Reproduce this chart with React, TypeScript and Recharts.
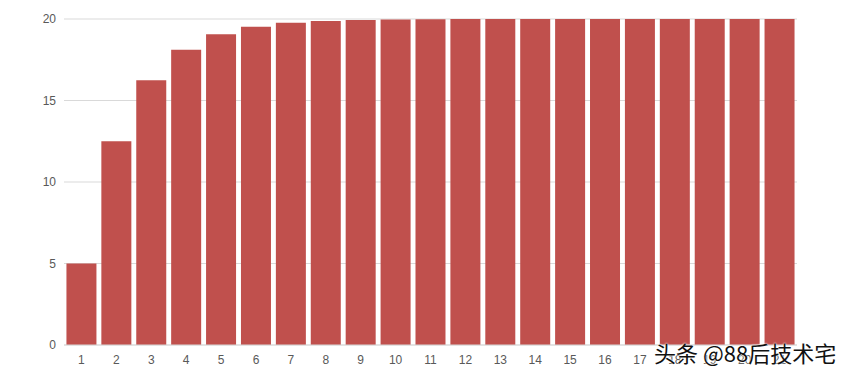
import React from 'react';
import { BarChart, Bar, XAxis, YAxis, CartesianGrid } from 'recharts';

const categories = ['1', '2', '3', '4', '5', '6', '7', '8', '9', '10', '11', '12', '13', '14', '15', '16', '17', '18', '19', '20', '21'];
const values = [5, 12.5, 16.25, 18.12, 19.06, 19.53, 19.77, 19.88, 19.94, 19.97, 19.99, 20, 20, 20, 20, 20, 20, 20, 20, 20, 20];
const yTicks = [0, 5, 10, 15, 20];

const data = categories.map((name, i) => ({ name, value: values[i] }));

const App: React.FC = () => {
  return (
    <div style={{ position: 'absolute', left: 0, top: 0, width: 850, height: 379, background: '#fff' }}>
      <BarChart
        width={850}
        height={379}
        data={data}
        margin={{ top: 19, right: 53, left: 0, bottom: 0 }}
        barCategoryGap="7%"
      >
        <CartesianGrid vertical={false} stroke="#D9D9D9" />
        <XAxis
          dataKey="name"
          height={34}
          tickLine={false}
          axisLine={{ stroke: '#D9D9D9' }}
          tick={{ fill: '#595959', fontSize: 12, fontFamily: 'Liberation Sans, Arial', dy: 2 }}
          interval={0}
        />
        <YAxis
          width={64}
          domain={[0, 20]}
          ticks={yTicks}
          tickLine={false}
          axisLine={false}
          tick={{ fill: '#595959', fontSize: 12, fontFamily: 'Liberation Sans, Arial' }}
        />
        <Bar dataKey="value" fill="#C0504D" isAnimationActive={false} />
      </BarChart>
      <div
        style={{
          position: 'absolute',
          left: 654,
          top: 336,
          fontFamily: '"Noto Sans CJK SC", sans-serif',
          fontSize: 22,
          color: '#111',
          textShadow: '0 0 2px #fff, 0 0 2px #fff',
          whiteSpace: 'nowrap',
        }}
      >
        头条 @88后技术宅
      </div>
    </div>
  );
};

export default App;
